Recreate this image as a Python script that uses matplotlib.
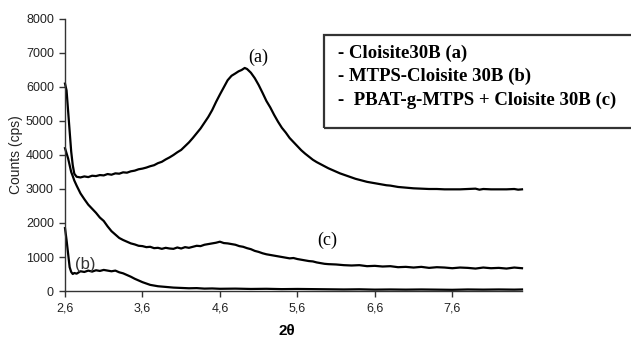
import matplotlib.pyplot as plt
from matplotlib.patches import Rectangle

# curve (a) Cloisite30B
a_x = [2.60, 2.62, 2.64, 2.66, 2.68, 2.70, 2.72, 2.75, 2.80, 2.85, 2.90, 2.95,
       3.00, 3.05, 3.10, 3.15, 3.20, 3.25, 3.30, 3.35, 3.40, 3.45, 3.50, 3.55,
       3.60, 3.65, 3.70, 3.75, 3.80, 3.85, 3.90, 3.95, 4.00, 4.05, 4.10, 4.15,
       4.20, 4.25, 4.30, 4.35, 4.40, 4.45, 4.50, 4.55, 4.60, 4.65, 4.70, 4.75,
       4.80, 4.84, 4.88, 4.92, 4.95, 5.00, 5.05, 5.10, 5.15, 5.20, 5.25, 5.30,
       5.35, 5.40, 5.45, 5.50, 5.55, 5.60, 5.65, 5.70, 5.75, 5.80, 5.85, 5.90,
       5.95, 6.00, 6.05, 6.10, 6.15, 6.20, 6.25, 6.30, 6.35, 6.40, 6.45, 6.50,
       6.55, 6.60, 6.65, 6.70, 6.75, 6.80, 6.85, 6.90, 6.95, 7.00, 7.10, 7.20,
       7.30, 7.40, 7.50, 7.60, 7.70, 7.80, 7.90, 7.95, 8.00, 8.10, 8.20, 8.30,
       8.40, 8.45, 8.50]
a_y = [6100, 5900, 5300, 4700, 4100, 3700, 3450, 3360, 3340, 3370, 3350, 3390,
       3380, 3410, 3400, 3440, 3420, 3460, 3450, 3490, 3480, 3520, 3540, 3580,
       3600, 3630, 3670, 3700, 3760, 3800, 3870, 3930, 4000, 4080, 4150, 4260,
       4370, 4500, 4640, 4780, 4950, 5120, 5320, 5560, 5780, 5990, 6200, 6330,
       6400, 6460, 6500, 6560, 6530, 6420, 6260, 6060, 5830, 5590, 5400, 5180,
       4980, 4800, 4660, 4500, 4380, 4260, 4140, 4040, 3950, 3860, 3790, 3730,
       3670, 3610, 3560, 3510, 3460, 3420, 3380, 3340, 3300, 3270, 3240, 3210,
       3190, 3170, 3150, 3130, 3110, 3100, 3080, 3060, 3050, 3040, 3020, 3010,
       3000, 3000, 2990, 2990, 2990, 3000, 3010, 2980, 3000, 2990, 2990, 2990,
       3000, 2980, 2990]

# curve (c) PBAT-g-MTPS + Cloisite 30B
c_x = [2.60, 2.62, 2.64, 2.66, 2.68, 2.70, 2.72, 2.75, 2.80, 2.85, 2.90, 2.95,
       3.00, 3.05, 3.10, 3.15, 3.20, 3.25, 3.30, 3.35, 3.40, 3.45, 3.50, 3.55,
       3.60, 3.65, 3.70, 3.75, 3.80, 3.85, 3.90, 3.95, 4.00, 4.05, 4.10, 4.15,
       4.20, 4.25, 4.30, 4.35, 4.40, 4.45, 4.50, 4.55, 4.60, 4.65, 4.70, 4.75,
       4.80, 4.85, 4.90, 4.95, 5.00, 5.05, 5.10, 5.15, 5.20, 5.25, 5.30, 5.35,
       5.40, 5.45, 5.50, 5.55, 5.60, 5.65, 5.70, 5.75, 5.80, 5.85, 5.90, 5.95,
       6.00, 6.10, 6.20, 6.30, 6.40, 6.50, 6.60, 6.70, 6.80, 6.90, 7.00, 7.10,
       7.20, 7.30, 7.40, 7.50, 7.60, 7.70, 7.80, 7.90, 8.00, 8.10, 8.20, 8.30,
       8.40, 8.50]
c_y = [4200, 4050, 3900, 3700, 3500, 3380, 3250, 3100, 2870, 2700, 2540, 2420,
       2300, 2160, 2060, 1900, 1760, 1660, 1560, 1500, 1450, 1400, 1370, 1330,
       1320, 1290, 1300, 1260, 1270, 1240, 1270, 1250, 1240, 1280, 1250, 1290,
       1270, 1300, 1330, 1320, 1360, 1380, 1400, 1420, 1450, 1410, 1400, 1380,
       1360, 1320, 1300, 1260, 1230, 1180, 1150, 1110, 1080, 1060, 1040, 1020,
       1000, 980, 960, 970, 940, 920, 900, 880, 870, 840, 820, 800,
       790, 780, 760, 750, 760, 730, 740, 720, 730, 700, 710, 690,
       710, 680, 700, 690, 670, 690, 680, 660, 690, 670, 680, 660,
       690, 670]

# curve (b) MTPS-Cloisite 30B
b_x = [2.60, 2.62, 2.64, 2.66, 2.68, 2.70, 2.72, 2.75, 2.80, 2.85, 2.90, 2.95,
       3.00, 3.05, 3.10, 3.15, 3.20, 3.25, 3.30, 3.35, 3.40, 3.45, 3.50, 3.55,
       3.60, 3.65, 3.70, 3.75, 3.80, 3.85, 3.90, 4.00, 4.10, 4.20, 4.30, 4.40,
       4.50, 4.60, 4.80, 5.00, 5.20, 5.40, 5.60, 5.80, 6.00, 6.20, 6.40, 6.60,
       6.80, 7.00, 7.20, 7.40, 7.60, 7.80, 8.00, 8.20, 8.40, 8.50]
b_y = [1850, 1500, 1100, 700, 560, 500, 530, 510, 580, 560, 600, 570,
       610, 590, 620, 600, 580, 600, 550, 520, 470, 420, 360, 310,
       260, 220, 180, 160, 140, 130, 120, 100, 90, 80, 85, 70,
       75, 65, 70, 60, 65, 55, 60, 55, 50, 45, 50, 40,
       45, 40, 45, 40, 35, 45, 40, 45, 40, 45]

x_ticks = [2.6, 3.6, 4.6, 5.6, 6.6, 7.6]
x_tick_labels = ["2,6", "3,6", "4,6", "5,6", "6,6", "7,6"]
y_ticks = [0, 1000, 2000, 3000, 4000, 5000, 6000, 7000, 8000]

legend_lines = ["- Cloisite30B (a)",
                "- MTPS-Cloisite 30B (b)",
                "-  PBAT-g-MTPS + Cloisite 30B (c)"]

W, H = 631, 340
fig = plt.figure(figsize=(W / 100, H / 100), dpi=100)
ax = fig.add_axes([65 / W, 1 - 291 / H, (522 - 65) / W, (291 - 19) / H])

for xs, ys in [(a_x, a_y), (c_x, c_y), (b_x, b_y)]:
    ax.plot(xs, ys, color="black", lw=1.6, clip_on=False)

ax.set_xlim(2.6, 8.5)
ax.set_ylim(0, 8000)
ax.set_xticks(x_ticks)
ax.set_xticklabels(x_tick_labels)
ax.set_yticks(y_ticks)
for s in ["top", "right"]:
    ax.spines[s].set_visible(False)
for s in ["left", "bottom"]:
    ax.spines[s].set_color("#333333")
    ax.spines[s].set_linewidth(1.0)
ax.tick_params(length=4, width=1, color="#333333", labelsize=9,
               labelcolor="#222222", pad=4)
for lab in ax.get_xticklabels() + ax.get_yticklabels():
    lab.set_family("Liberation Sans")

# curve labels
ax.text(5.09, 6880, "(a)", family="Liberation Serif", fontsize=13,
        ha="center", va="center")
ax.text(5.98, 1500, "(c)", family="Liberation Serif", fontsize=13,
        ha="center", va="center")
ax.text(2.86, 790, "(b)", family="Liberation Sans", fontsize=12,
        ha="center", va="center", color="#333333")

fig.text(16 / W, 1 - 155 / H, "Counts (cps)", rotation=90, ha="center",
         va="center", family="Liberation Sans", fontsize=10, color="#222222")
fig.text(287 / W, 1 - 331 / H, "2θ", ha="center", va="center",
         family="Liberation Sans", fontweight="bold", fontsize=11)

# legend box
fig.patches.append(Rectangle((324 / W, 1 - 128 / H), (640 - 324) / W, 93 / H,
                             transform=fig.transFigure, fill=False,
                             edgecolor="#333333", lw=1.6))
for i, t in enumerate(legend_lines):
    fig.text(338 / W, 1 - (53 + 23.5 * i) / H, t, ha="left", va="center",
             family="Liberation Serif", fontweight="bold", fontsize=13.5)

fig.savefig("out.png", dpi=100)
